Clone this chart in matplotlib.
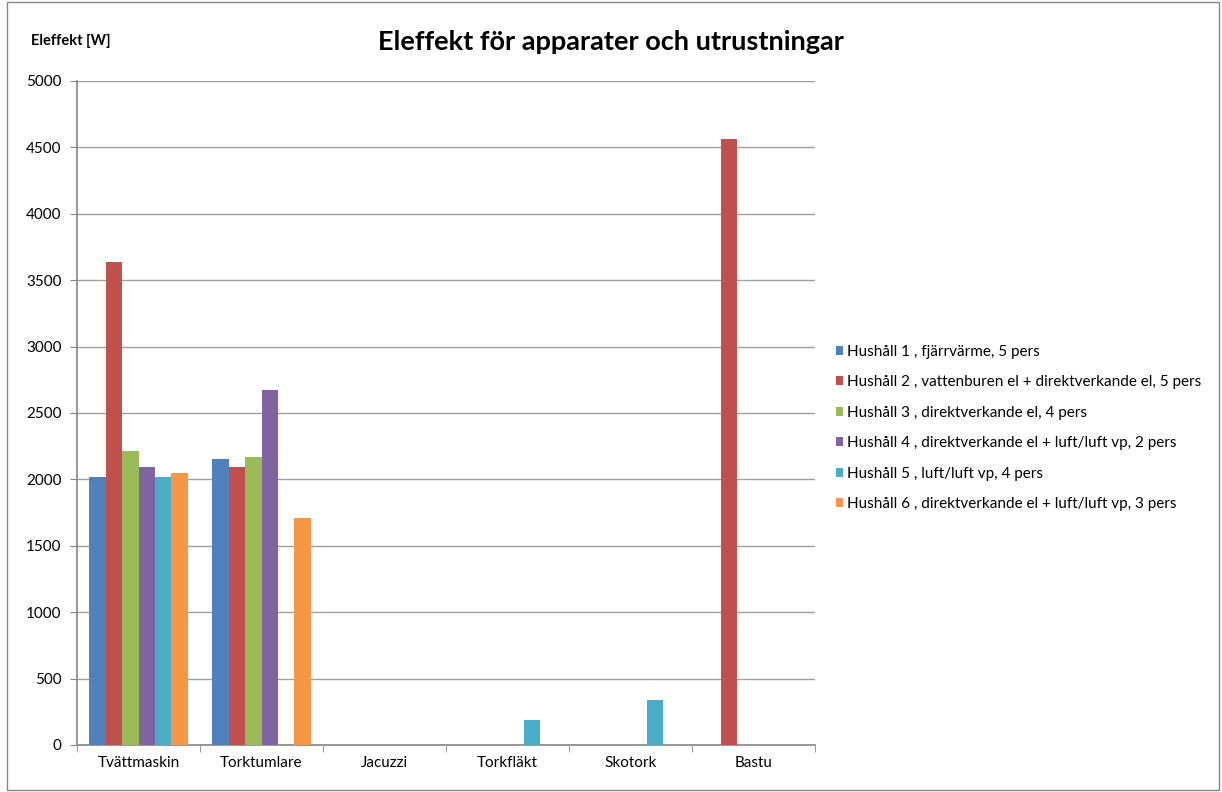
import numpy as np
import matplotlib.pyplot as plt
from matplotlib.patches import Rectangle

plt.rcParams['font.family'] = ['Lato', 'DejaVu Sans']

categories = ["Tvättmaskin", "Torktumlare", "Jacuzzi", "Torkfläkt", "Skotork", "Bastu"]
series_names = [
    "Hushåll 1 , fjärrvärme, 5 pers",
    "Hushåll 2 , vattenburen el + direktverkande el, 5 pers",
    "Hushåll 3 , direktverkande el, 4 pers",
    "Hushåll 4 , direktverkande el + luft/luft vp, 2 pers",
    "Hushåll 5 , luft/luft vp, 4 pers",
    "Hushåll 6 , direktverkande el + luft/luft vp, 3 pers",
]
hushall1 = [2020, 2150, 0, 0, 0, 0]
hushall2 = [3635, 2090, 0, 0, 0, 4560]
hushall3 = [2215, 2170, 0, 0, 0, 0]
hushall4 = [2095, 2670, 0, 0, 0, 0]
hushall5 = [2020, 0, 0, 190, 340, 0]
hushall6 = [2045, 1707, 0, 0, 0, 0]
colors = ["#4F81BD", "#C0504D", "#9BBB59", "#8064A2", "#4BACC6", "#F79646"]

values = [hushall1, hushall2, hushall3, hushall4, hushall5, hushall6]

fig = plt.figure(figsize=(12.22, 7.92), dpi=100)
ax = fig.add_axes([77 / 1222, 1 - 745 / 792, 738 / 1222, 664 / 792])

x = np.arange(len(categories))
width = 0.8 / len(values)
for i, (vals, name, c) in enumerate(zip(values, series_names, colors)):
    ax.bar(x - 0.4 + width * (i + 0.5), vals, width, color=c, label=name, zorder=3)

ax.set_xlim(-0.5, len(categories) - 0.5)
ax.set_ylim(0, 5000)
ax.set_yticks(range(0, 5001, 500))
ax.set_xticks(x)
ax.set_xticklabels(categories, fontsize=11)
ax.set_xticks(np.arange(-0.5, len(categories)), minor=True)
ax.tick_params(axis='x', which='major', length=0, pad=8)
ax.tick_params(axis='x', which='minor', length=5, color='#868686')
ax.tick_params(axis='y', length=5, color='#868686', labelsize=11, pad=6)
ax.grid(axis='y', color='#A0A0A0', linewidth=1, zorder=0)
for s in ['top', 'right']:
    ax.spines[s].set_visible(False)
for s in ['left', 'bottom']:
    ax.spines[s].set_color('#868686')
    ax.spines[s].set_linewidth(1.2)

fig.text(0.5, 1 - 42 / 792, "Eleffekt för apparater och utrustningar",
         ha='center', va='center', fontsize=19.5, fontweight='bold')
fig.text(31 / 1222, 1 - 41 / 792, "Eleffekt [W]", ha='left', va='center',
         fontsize=10.5, fontweight='bold')

ax.legend(loc='center left', bbox_to_anchor=(822 / 1222, 1 - 428 / 792),
          bbox_transform=fig.transFigure, frameon=False, fontsize=11,
          handlelength=0.5, handleheight=0.5, handletextpad=0.25,
          labelspacing=1.08)

fig.add_artist(Rectangle((7 / 1222, 2 / 792), 1212 / 1222, 788 / 792,
                         transform=fig.transFigure, fill=False,
                         edgecolor='#868686', linewidth=1))

fig.savefig("out.png", dpi=100)
